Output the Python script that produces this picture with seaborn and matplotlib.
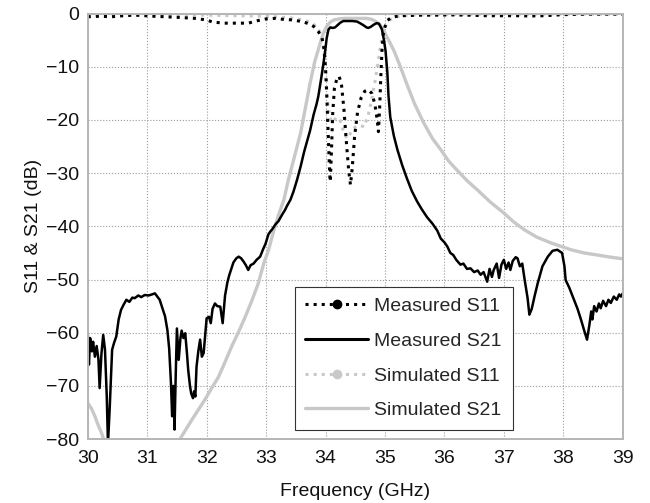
"""
Filter response: measured vs simulated S11 / S21 (30-39 GHz).
"""

import matplotlib
matplotlib.use("Agg")
import matplotlib.pyplot as plt
from matplotlib.lines import Line2D
import seaborn as sns

# ==========================================
# DATA
# ==========================================
meas_s21_f = [
    30.00, 30.02, 30.04, 30.07, 30.09, 30.12, 30.15, 30.18, 30.20, 30.23,
    30.26, 30.29, 30.32, 30.34, 30.37, 30.41, 30.44, 30.48, 30.52, 30.56,
    30.60, 30.65, 30.70, 30.75, 30.79, 30.85, 30.90, 30.96, 31.02, 31.08,
    31.13, 31.17, 31.21, 31.26, 31.30, 31.34, 31.37, 31.40, 31.42, 31.44,
    31.46, 31.48, 31.50, 31.53, 31.56, 31.58, 31.61, 31.64, 31.67, 31.69,
    31.72, 31.74, 31.77, 31.79, 31.81, 31.83, 31.86, 31.89, 31.92, 31.95,
    31.98, 32.00, 32.04, 32.07, 32.10, 32.14, 32.18, 32.23, 32.27, 32.31,
    32.35, 32.38, 32.42, 32.45, 32.50, 32.54, 32.58, 32.62, 32.66, 32.70,
    32.74, 32.79, 32.84, 32.90, 32.95, 32.99, 33.04, 33.07, 33.10, 33.16,
    33.21, 33.27, 33.32, 33.35, 33.41, 33.46, 33.52, 33.58, 33.64, 33.69,
    33.74, 33.80, 33.85, 33.88, 33.93, 33.97, 34.00, 34.02, 34.05, 34.08,
    34.12, 34.16, 34.20, 34.25, 34.30, 34.36, 34.45, 34.53, 34.58, 34.64,
    34.69, 34.72, 34.76, 34.81, 34.86, 34.90, 34.95, 34.98, 35.01, 35.04,
    35.06, 35.09, 35.15, 35.21, 35.29, 35.37, 35.45, 35.54, 35.62, 35.71,
    35.80, 35.88, 35.94, 36.00, 36.05, 36.10, 36.15, 36.20, 36.27, 36.32,
    36.38, 36.44, 36.50, 36.56, 36.61, 36.66, 36.72, 36.76, 36.80, 36.83,
    36.88, 36.92, 36.96, 37.00, 37.04, 37.08, 37.11, 37.15, 37.20, 37.23,
    37.27, 37.31, 37.35, 37.40, 37.43, 37.47, 37.52, 37.57, 37.65, 37.74,
    37.82, 37.90, 37.98, 38.02, 38.04, 38.10, 38.18, 38.24, 38.30, 38.35,
    38.40, 38.44, 38.47, 38.49, 38.52, 38.56, 38.60, 38.63, 38.67, 38.72,
    38.76, 38.80, 38.85, 38.90, 38.94, 38.97, 39.00,
]
meas_s21_db = [
    -60.0, -66.0, -61.0, -63.5, -61.7, -64.5, -62.5, -65.0, -70.4, -64.0,
    -60.4, -63.2, -72.0, -81.0, -74.0, -63.2, -62.0, -60.7, -57.5, -55.7,
    -54.8, -53.8, -54.2, -53.4, -53.5, -53.0, -53.3, -52.9, -53.0, -52.8,
    -52.6, -53.2, -53.8, -55.5, -56.9, -59.5, -63.0, -69.5, -75.7, -70.0,
    -78.2, -68.0, -59.2, -65.1, -61.0, -59.6, -61.0, -60.1, -64.0, -67.0,
    -70.0, -71.4, -72.3, -71.0, -72.0, -66.4, -63.5, -61.3, -64.5, -63.8,
    -60.0, -57.3, -57.0, -58.2, -55.5, -54.5, -55.0, -55.1, -58.2, -53.0,
    -50.5, -49.2, -47.8, -46.8, -46.0, -45.7, -46.0, -46.6, -47.3, -48.2,
    -47.3, -47.0, -46.3, -45.7, -44.3, -43.3, -41.5, -41.0, -40.6, -39.6,
    -39.0, -37.8, -36.9, -36.2, -35.0, -33.5, -31.3, -28.8, -26.0, -24.0,
    -22.0, -19.0, -17.0, -15.5, -12.0, -9.0, -6.5, -4.6, -3.0, -2.6,
    -2.7, -2.6, -2.2, -1.7, -1.4, -1.4, -1.4, -1.5, -1.8, -2.2,
    -2.6, -2.7, -2.5, -2.1, -1.8, -1.9, -3.0, -4.8, -7.0, -11.0,
    -15.5, -19.5, -23.0, -25.6, -28.5, -31.0, -33.3, -35.3, -36.8, -38.3,
    -39.5, -40.8, -42.3, -43.0, -43.8, -45.0, -45.4, -46.3, -47.2, -47.0,
    -48.0, -47.9, -48.6, -48.3, -49.1, -48.6, -50.4, -48.0, -49.5, -48.2,
    -47.0, -49.7, -47.2, -46.3, -48.0, -46.8, -48.2, -46.5, -45.8, -46.0,
    -47.5, -47.0, -50.0, -53.5, -56.6, -55.5, -53.0, -50.7, -47.5, -45.7,
    -44.6, -44.4, -45.0, -47.5, -50.1, -51.5, -53.8, -55.5, -57.6, -59.5,
    -61.3, -58.5, -56.0, -57.5, -55.0, -56.0, -54.5, -55.4, -54.0, -55.0,
    -53.8, -54.4, -53.2, -53.8, -52.8, -53.2, -52.6,
]

sim_s21_f = [
    30.00, 30.06, 30.12, 30.18, 30.23, 30.30, 30.40, 31.00, 31.45, 31.55,
    31.65, 31.75, 31.86, 31.97, 32.08, 32.20, 32.31, 32.42, 32.54, 32.65,
    32.76, 32.87, 32.96, 33.04, 33.13, 33.22, 33.30, 33.37, 33.44, 33.51,
    33.58, 33.64, 33.70, 33.74, 33.82, 33.91, 33.96, 34.02, 34.08, 34.14,
    34.25, 34.36, 34.50, 34.69, 34.78, 34.85, 34.92, 34.97, 35.03, 35.09,
    35.16, 35.26, 35.37, 35.50, 35.65, 35.80, 35.94, 36.07, 36.21, 36.38,
    36.55, 36.78, 37.00, 37.17, 37.34, 37.55, 37.79, 38.13, 38.35, 38.58,
    38.80, 39.00,
]
sim_s21_db = [
    -73.2, -74.2, -75.7, -77.5, -78.8, -81.0, -86.0, -95.0, -83.0, -80.0,
    -78.2, -76.4, -74.5, -72.6, -70.5, -68.3, -65.5, -62.6, -59.8, -57.0,
    -54.0, -50.7, -47.0, -44.5, -40.8, -37.5, -35.0, -31.5, -28.5, -25.5,
    -22.5, -19.0, -15.5, -13.1, -9.0, -5.6, -3.8, -2.4, -1.6, -1.2,
    -0.95, -0.9, -0.9, -0.9, -1.1, -1.5, -2.2, -3.0, -4.3, -5.6,
    -7.2, -10.0, -13.3, -17.0, -20.5, -23.5, -25.6, -27.7, -29.4, -31.4,
    -33.1, -35.5, -37.5, -39.2, -40.6, -42.0, -43.1, -44.4, -45.0, -45.4,
    -45.8, -46.1,
]

meas_s11_f = [
    30.00, 30.20, 30.40, 30.60, 30.80, 30.96, 31.10, 31.30, 31.50, 31.80,
    32.00, 32.10, 32.30, 32.50, 32.70, 32.87, 33.00, 33.15, 33.30, 33.45,
    33.60, 33.72, 33.80, 33.88, 33.94, 33.98, 34.01, 34.03, 34.05, 34.07,
    34.08, 34.10, 34.12, 34.15, 34.19, 34.23, 34.27, 34.31, 34.35, 34.39,
    34.42, 34.45, 34.49, 34.54, 34.60, 34.66, 34.72, 34.78, 34.83, 34.87,
    34.89, 34.91, 34.93, 34.95, 34.97, 35.00, 35.04, 35.10, 35.20, 35.30,
    35.60, 35.90, 36.10, 36.40, 36.70, 36.95, 37.20, 37.45, 37.70, 38.00,
    38.40, 38.70, 39.00,
]
meas_s11_db = [
    -0.6, -0.5, -0.6, -0.4, -0.3, -0.4, -0.5, -0.6, -0.7, -0.9,
    -1.2, -1.6, -1.8, -1.8, -1.8, -1.3, -1.0, -0.9, -1.1, -1.2,
    -1.5, -1.9, -2.4, -3.4, -4.5, -7.0, -12.0, -18.0, -24.0, -30.0,
    -31.6, -26.0, -19.0, -14.0, -12.3, -11.8, -13.5, -18.0, -24.0, -29.5,
    -32.2, -29.0, -23.0, -18.5, -15.8, -14.6, -14.3, -15.0, -17.0, -20.0,
    -22.2, -18.0, -12.0, -7.0, -4.0, -2.5, -1.3, -0.8, -0.5, -0.4,
    -0.3, -0.3, -0.25, -0.3, -0.4, -0.4, -0.4, -0.45, -0.4, -0.2,
    -0.1, -0.1, -0.1,
]

sim_s11_f = [
    30.00, 31.00, 32.00, 33.00, 33.40, 33.65, 33.80, 33.90, 33.95, 33.98,
    34.00, 34.03, 34.07, 34.12, 34.18, 34.24, 34.30, 34.36, 34.42, 34.50,
    34.58, 34.65, 34.72, 34.78, 34.83, 34.88, 34.92, 34.96, 35.00, 35.08,
    35.20, 35.40, 36.00, 37.00, 38.00, 39.00,
]
sim_s11_db = [
    -0.2, -0.2, -0.3, -0.5, -0.8, -1.2, -2.0, -3.3, -5.0, -8.0,
    -12.5, -16.0, -19.5, -20.5, -19.5, -20.0, -22.0, -23.5, -22.5, -21.3,
    -21.0, -21.3, -19.0, -16.0, -13.0, -9.5, -6.5, -4.0, -2.5, -1.2,
    -0.6, -0.3, -0.15, -0.1, -0.1, -0.1,
]

x_ticks = [30, 31, 32, 33, 34, 35, 36, 37, 38, 39]
y_ticks = [0, -10, -20, -30, -40, -50, -60, -70, -80]
labels = ["Measured S11", "Measured S21", "Simulated S11", "Simulated S21"]

GREY = "#c8c8c8"


def main():
    sns.set_theme(style="white")
    plt.rcParams["font.family"] = ["Liberation Sans", "DejaVu Sans"]

    fig = plt.figure(figsize=(6.5, 5.03), dpi=100)
    ax = fig.add_axes([0.135, 0.127, 0.823, 0.846])

    # simulated first, measured drawn on top
    sns.lineplot(x=sim_s11_f, y=sim_s11_db, ax=ax, color=GREY, linestyle=":",
                 linewidth=2.2, sort=False, estimator=None)
    sns.lineplot(x=sim_s21_f, y=sim_s21_db, ax=ax, color=GREY, linewidth=2.4,
                 sort=False, estimator=None)
    sns.lineplot(x=meas_s11_f, y=meas_s11_db, ax=ax, color="black", linestyle=":",
                 linewidth=2.2, sort=False, estimator=None)
    sns.lineplot(x=meas_s21_f, y=meas_s21_db, ax=ax, color="black", linewidth=1.8,
                 sort=False, estimator=None)

    ax.set_xlim(30, 39)
    ax.set_ylim(-80, 0)
    ax.set_xticks(x_ticks)
    ax.set_yticks(y_ticks)
    ax.grid(True, linestyle=":", color="#9a9a9a", linewidth=0.8)

    ax.tick_params(axis="both", direction="in", length=5, width=0.8,
                   color="#999999", labelsize=14, labelcolor="#111111")
    ax.tick_params(axis="x", pad=8)
    ax.tick_params(axis="y", pad=6)
    for side in ["top", "right", "bottom", "left"]:
        ax.spines[side].set_color("#b5b5b5")
        ax.spines[side].set_linewidth(1.4)

    ax.set_xlabel("Frequency (GHz)", fontsize=14, labelpad=11, color="#111111")
    ax.set_ylabel("S11 & S21 (dB)", fontsize=14, labelpad=3, color="#111111")

    handles = [
        Line2D([], [], color="black", linestyle=":", linewidth=2.2,
               marker="o", markersize=6),
        Line2D([], [], color="black", linewidth=2.2),
        Line2D([], [], color=GREY, linestyle=":", linewidth=2.2,
               marker="o", markersize=6),
        Line2D([], [], color=GREY, linewidth=2.4),
    ]
    leg = ax.legend(handles, labels, loc="upper left", bbox_to_anchor=(0.387, 0.358),
                    borderaxespad=0, fontsize=14, handlelength=3.2,
                    handletextpad=0.35, labelspacing=0.88, borderpad=0.55,
                    numpoints=1, frameon=True, fancybox=False, framealpha=1)
    leg.get_frame().set_edgecolor("#333333")
    leg.get_frame().set_linewidth(0.8)

    fig.savefig("out.png", dpi=100)
    plt.close(fig)


if __name__ == "__main__":
    main()
